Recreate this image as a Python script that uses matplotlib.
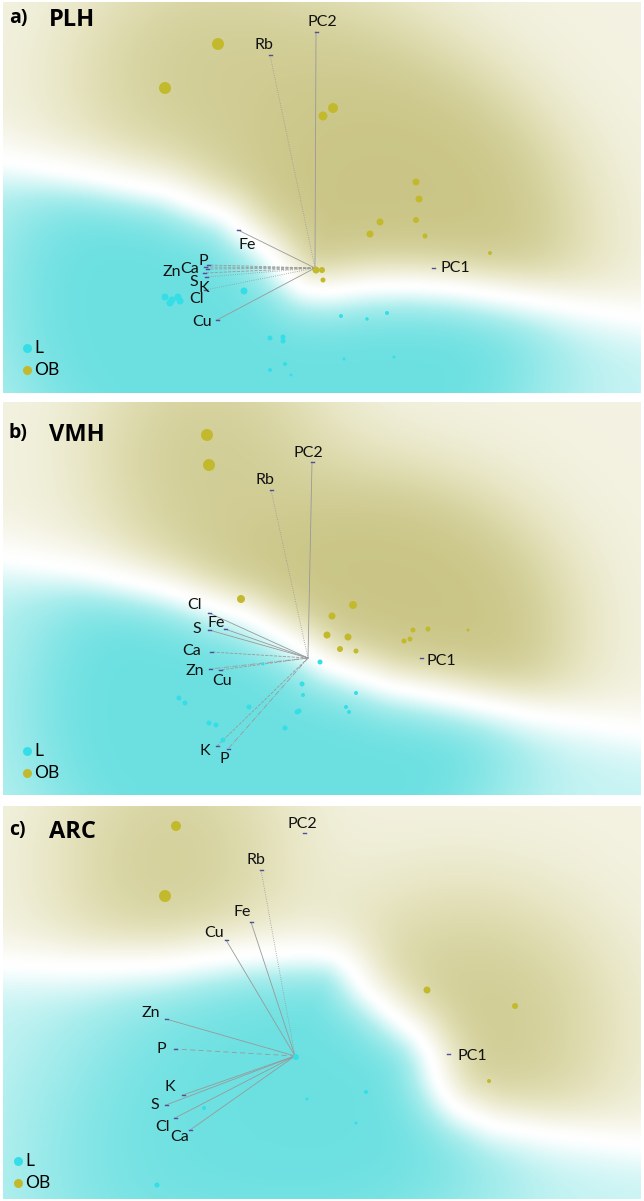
import numpy as np
import matplotlib
matplotlib.use("Agg")
import matplotlib.pyplot as plt
from matplotlib.colors import LinearSegmentedColormap

plt.rcParams['font.family'] = ['Lato', 'DejaVu Sans']

# ---- data (score coordinates, image pixel units) ----
titles = ["PLH", "VMH", "ARC"]
letters = ["a)", "b)", "c)"]

# panel a - PLH
a_ob_x = [218, 165, 333, 323, 416, 419, 380, 370, 416, 425, 490, 316, 322, 323]
a_ob_y = [44, 88, 108, 116, 182, 199, 222, 234, 220, 236, 253, 270, 270, 280]
a_l_x = [165, 172, 178, 170, 180, 244, 341, 367, 387, 270, 283, 283, 344, 394, 270, 285, 291]
a_l_y = [297, 300, 297, 303, 301, 291, 316, 319, 313, 338, 337, 341, 359, 357, 370, 364, 375]
a_origin = (315, 268)
a_names = ["PC2", "Rb", "Fe", "Zn", "Ca", "P", "S", "K", "Cl", "Cu", "PC1"]
a_end_x = [316, 270, 238, 205, 207, 208, 204, 206, 205, 217, 433]
a_end_y = [32, 55, 230, 267, 269, 265, 273, 277, 290, 320, 268]
# class boundary of the classifier map
a_bnd_x = [0, 82, 164, 226, 267, 287, 304, 329, 370, 411, 452, 534, 644]
a_bnd_y = [160, 175, 192, 217, 253, 277, 291, 293, 288, 287, 290, 302, 320]

# panel b - VMH
b_ob_x = [207, 209, 241, 353, 332, 327, 348, 340, 356, 413, 428, 410, 404, 468]
b_ob_y = [435, 465, 599, 605, 616, 635, 637, 649, 651, 630, 629, 639, 641, 630]
b_l_x = [320, 302, 303, 356, 179, 185, 249, 346, 349, 297, 299, 209, 216, 285, 223, 263]
b_l_y = [662, 684, 695, 693, 698, 703, 707, 707, 712, 712, 711, 723, 725, 728, 740, 664]
b_origin = (308, 658)
b_names = ["PC2", "Rb", "Cl", "Fe", "S", "Ca", "Zn", "Cu", "K", "P", "PC1"]
b_end_x = [312, 271, 209, 225, 209, 211, 210, 220, 217, 228, 421]
b_end_y = [462, 490, 613, 629, 630, 652, 669, 670, 746, 749, 658]
b_bnd_x = [0, 82, 164, 246, 287, 329, 390, 452, 534, 644]
b_bnd_y = [557, 570, 590, 617, 640, 667, 688, 700, 717, 733]

# panel c - ARC
c_ob_x = [176, 165, 427, 515, 489]
c_ob_y = [826, 896, 990, 1006, 1081]
c_l_x = [296, 307, 366, 204, 356, 157]
c_l_y = [1057, 1099, 1092, 1108, 1123, 1185]
c_origin = (295, 1056)
c_names = ["PC2", "Rb", "Fe", "Cu", "Zn", "P", "K", "S", "Cl", "Ca", "PC1"]
c_end_x = [304, 261, 251, 226, 166, 175, 183, 166, 175, 190, 448]
c_end_y = [833, 870, 922, 940, 1019, 1049, 1095, 1105, 1118, 1130, 1054]
c_bnd_x = [0, 82, 164, 246, 308, 335, 350, 365, 390, 419, 431, 437, 446, 460, 493, 554, 644]
c_bnd_y = [965, 968, 965, 955, 952, 955, 968, 990, 1013, 1037, 1057, 1080, 1098, 1112, 1127, 1137, 1147]

# ---- styles / layout ----
a_ob_d = [12, 12, 10, 9, 7, 7, 7, 7, 6, 5, 4, 7, 6, 5]
a_l_d = [7, 7, 7, 7, 7, 7, 4, 3.5, 4, 5, 5, 5, 3, 3, 4, 4, 3]
b_ob_d = [12, 12, 8, 8, 7, 7, 7, 6, 5, 5, 5, 5, 5, 3]
b_l_d = [5, 5, 4, 4, 5, 5, 5, 4, 4, 5, 5, 5, 5, 5, 5, 3]
c_ob_d = [10, 12, 7, 6, 4]
c_l_d = [6, 3, 4, 4, 3, 5]

a_ls = ["-", ":", "-", "--", "--", "--", "--", ":", ":", "-", None]
b_ls = ["-", ":", "-", "-", "-", "--", "-.", "--", "--", "-.", None]
c_ls = [None, ":", "-", "-", "-", (0, (6, 4)), "-", "-", "-", "-", None]

a_lab = {"PC2": (322, 22), "Rb": (264, 45), "Fe": (247, 245), "Zn": (172, 272),
         "Ca": (190, 269), "P": (203, 261), "S": (194, 282), "K": (204, 288),
         "Cl": (196, 299), "Cu": (202, 322), "PC1": (455, 268)}
b_lab = {"PC2": (308, 453), "Rb": (265, 480), "Cl": (195, 605), "Fe": (216, 623),
         "S": (197, 629), "Ca": (192, 651), "Zn": (195, 671), "Cu": (222, 681),
         "K": (205, 751), "P": (224, 759), "PC1": (441, 661)}
c_lab = {"PC2": (302, 824), "Rb": (256, 860), "Fe": (242, 912), "Cu": (214, 933),
         "Zn": (151, 1013), "P": (161, 1049), "K": (170, 1087), "S": (155, 1105),
         "Cl": (163, 1127), "Ca": (180, 1137), "PC1": (472, 1056)}

# axes extents in image pixels (x0, x1, y_top, y_bottom)
extents = [(3, 641, 2, 393), (3, 641, 402, 795), (3, 641, 806, 1199)]
legend_pos = [(27, 348), (27, 751), (18, 1161)]
title_pos = [(9, 18), (9, 433), (9, 830)]

ob_col = "#C2BA2C"
l_col = "#35DEE6"
bg_cmap = LinearSegmentedColormap.from_list(
    "bg", ["#6CE0E1", "#AAEDED", "#FFFFFF", "#E6E4C0", "#C8C382"])

panels = [
    (a_ob_x, a_ob_y, a_ob_d, a_l_x, a_l_y, a_l_d, a_origin, a_names, a_end_x, a_end_y, a_ls, a_lab, a_bnd_x, a_bnd_y),
    (b_ob_x, b_ob_y, b_ob_d, b_l_x, b_l_y, b_l_d, b_origin, b_names, b_end_x, b_end_y, b_ls, b_lab, b_bnd_x, b_bnd_y),
    (c_ob_x, c_ob_y, c_ob_d, c_l_x, c_l_y, c_l_d, c_origin, c_names, c_end_x, c_end_y, c_ls, c_lab, c_bnd_x, c_bnd_y),
]

W, H = 644, 1201
fig = plt.figure(figsize=(W / 100, H / 100), dpi=100)


def px2pt(d):
    return (d * 0.72) ** 2


def kde(xx, yy, px, py, sigma):
    out = np.zeros_like(xx)
    for x, y in zip(px, py):
        out += np.exp(-((xx - x) ** 2 + (yy - y) ** 2) / (2 * sigma ** 2))
    return out


def smooth_curve(bx, by, width=7.0):
    # resample the boundary by arc length and round off the corners
    bx = np.asarray(bx, float)
    by = np.asarray(by, float)
    t = np.concatenate([[0], np.cumsum(np.hypot(np.diff(bx), np.diff(by)))])
    tt = np.arange(0, t[-1], 1.0)
    sx = np.interp(tt, t, bx)
    sy = np.interp(tt, t, by)
    k = np.exp(-0.5 * (np.arange(-30, 31) / width) ** 2)
    k /= k.sum()
    sx = np.convolve(np.pad(sx, 30, mode="reflect", reflect_type="odd"), k, mode="valid")
    sy = np.convolve(np.pad(sy, 30, mode="reflect", reflect_type="odd"), k, mode="valid")
    return sx, sy


def background(ax, ext, obx, oby, lx, ly, bx, by):
    x0, x1, yt, yb = ext
    gx = np.arange(x0, x1 + 2, 2.0)
    gy = np.arange(yt, yb + 2, 2.0)
    xx, yy = np.meshgrid(gx, gy)

    sx, sy = smooth_curve(bx, by)
    dist = np.empty_like(xx)
    for r in range(xx.shape[0]):
        d2 = (xx[r][:, None] - sx[None, :]) ** 2 + (yy[r][:, None] - sy[None, :]) ** 2
        dist[r] = np.sqrt(d2.min(axis=1))
    order = np.argsort(sx)
    side = np.where(yy < np.interp(xx, sx[order], sy[order]), 1.0, -1.0)
    ramp = 1 - np.exp(-(dist / 28.0) ** 1.5)

    dob = 1 - np.exp(-kde(xx, yy, obx, oby, 75) / 1.3)
    dl = 1 - np.exp(-kde(xx, yy, lx, ly, 85) / 0.9)
    inten = np.where(side > 0, 0.22 + 0.74 * dob, 0.32 + 0.68 * dl)

    v = side * ramp * inten
    ax.imshow(v, cmap=bg_cmap, vmin=-1, vmax=1, extent=(x0, x1, yb, yt),
              origin="upper", aspect="auto", interpolation="bilinear", zorder=0)


for i, (obx, oby, obd, lx, ly, ld, org, names, ex, ey, lss, labs, bx, by) in enumerate(panels):
    x0, x1, yt, yb = extents[i]
    ax = fig.add_axes([x0 / W, 1 - yb / H, (x1 - x0) / W, (yb - yt) / H])
    ax.set_xlim(x0, x1)
    ax.set_ylim(yb, yt)
    ax.axis("off")

    background(ax, extents[i], obx, oby, lx, ly, bx, by)

    # loadings
    for name, x, y, ls in zip(names, ex, ey, lss):
        if ls is not None:
            ax.plot([org[0], x], [org[1], y], color="#999999", lw=0.6, ls=ls, zorder=2)
        ax.plot([x - 1.5, x + 1.5], [y, y], color="#4F4FA0", lw=1.0, zorder=3)
        tx, ty = labs[name]
        ax.text(tx, ty, name, fontsize=11.5, ha="center", va="center",
                color="#111111", zorder=5)

    ax.scatter(obx, oby, s=[px2pt(d) for d in obd], color=ob_col, lw=0, zorder=4)
    ax.scatter(lx, ly, s=[px2pt(d) for d in ld], color=l_col, lw=0, zorder=4)

    # legend
    lgx, lgy = legend_pos[i]
    ax.scatter([lgx], [lgy], s=px2pt(9), color=l_col, lw=0, zorder=6)
    ax.scatter([lgx], [lgy + 22], s=px2pt(9), color=ob_col, lw=0, zorder=6)
    ax.text(lgx + 7, lgy, "L", fontsize=12.5, va="center", ha="left", zorder=6)
    ax.text(lgx + 7, lgy + 22, "OB", fontsize=12.5, va="center", ha="left", zorder=6)

    # panel title
    tx, ty = title_pos[i]
    ax.text(tx, ty, letters[i], fontsize=14, fontweight="bold", va="center", ha="left",
            family=["Open Sans", "DejaVu Sans"], zorder=6)
    ax.text(tx + 40, ty + 2, titles[i], fontsize=17, fontweight="bold", va="center", ha="left",
            family=["Open Sans", "DejaVu Sans"], zorder=6)

fig.savefig("out.png", dpi=100)
